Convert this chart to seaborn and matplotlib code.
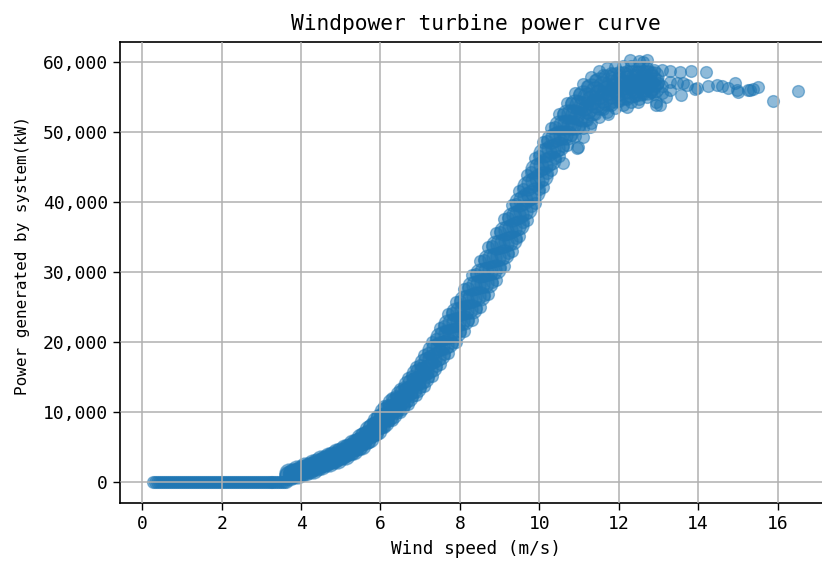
import numpy as np
import pandas as pd
import matplotlib
matplotlib.use("Agg")
import matplotlib.pyplot as plt
from matplotlib.ticker import FuncFormatter
import seaborn as sns

# ---- data ----
# zero-power segment (below cut-in, ~3.6 m/s)
flat_speed = [0.28, 0.33, 0.38, 0.43, 0.48, 0.53, 0.58, 0.63, 0.68, 0.73, 0.78, 0.83,
              0.88, 0.93, 0.98, 1.03, 1.08, 1.13, 1.18, 1.23, 1.28, 1.33, 1.38, 1.43,
              1.48, 1.53, 1.58, 1.63, 1.68, 1.73, 1.78, 1.83, 1.88, 1.93, 1.98, 2.03,
              2.08, 2.13, 2.18, 2.23, 2.28, 2.33, 2.38, 2.43, 2.48, 2.53, 2.58, 2.63,
              2.68, 2.73, 2.78, 2.83, 2.88, 2.93, 2.98, 3.03, 3.08, 3.13, 3.18, 3.23,
              3.28, 3.33, 3.38, 3.43, 3.48, 3.53, 3.58, 3.62]
flat_power = [0] * len(flat_speed)

# main band, set A: speed grid and five power levels across the band (bottom -> top)
band_speed = [3.7, 3.9, 4.1, 4.3, 4.5, 4.7, 4.9, 5.1, 5.3, 5.5, 5.7, 5.9, 6.1, 6.3, 6.5,
              6.7, 6.9, 7.1, 7.3, 7.5, 7.7, 7.9, 8.1, 8.3, 8.5, 8.7, 8.9, 9.1, 9.3, 9.5,
              9.7, 9.9, 10.1, 10.3, 10.5, 10.7, 10.9, 11.1, 11.3, 11.5, 11.7, 11.9, 12.1,
              12.3, 12.5, 12.7, 12.9]
band_low = [700, 950, 1250, 1600, 2100, 2500, 2950, 3500, 4100, 4800, 5750, 6800, 7800,
            8900, 10000, 11200, 12400, 13700, 15200, 16800, 18400, 20000, 21600, 23200,
            25000, 26800, 28800, 30900, 33000, 35200, 37400, 39800, 42200, 44500, 46500,
            48100, 49400, 50500, 51300, 52200, 52800, 53400, 53900, 54300, 54700, 55000,
            55400]
band_q1 = [880, 1190, 1530, 1910, 2430, 2860, 3340, 3910, 4550, 5300, 6310, 7450, 8550,
           9680, 10830, 12100, 13400, 14800, 16400, 18100, 19800, 21430, 23080, 24780,
           26630, 28480, 30480, 32550, 34630, 36780, 39030, 41430, 43780, 46000, 48000,
           49600, 50950, 52100, 52950, 53830, 54380, 54880, 55280, 55580, 55850, 56030,
           56280]
band_mid = [1050, 1430, 1800, 2230, 2750, 3230, 3730, 4330, 5000, 5800, 6880, 8100, 9300,
            10450, 11650, 13000, 14400, 15900, 17600, 19400, 21200, 22850, 24550, 26350,
            28250, 30150, 32150, 34200, 36250, 38350, 40650, 43050, 45350, 47500, 49500,
            51100, 52500, 53700, 54600, 55450, 55950, 56350, 56650, 56850, 57000, 57050,
            57150]
band_q3 = [1230, 1660, 2080, 2540, 3080, 3590, 4110, 4740, 5450, 6300, 7440, 8750, 10050,
           11230, 12480, 13900, 15400, 17000, 18800, 20700, 22600, 24280, 26030, 27930,
           29880, 31830, 33830, 35850, 37880, 39930, 42280, 44680, 46930, 49000, 51000,
           52600, 54050, 55300, 56250, 57080, 57530, 57830, 58030, 58130, 58150, 58080,
           58030]
band_high = [1400, 1900, 2350, 2850, 3400, 3950, 4500, 5150, 5900, 6800, 8000, 9400, 10800,
             12000, 13300, 14800, 16400, 18100, 20000, 22000, 24000, 25700, 27500, 29500,
             31500, 33500, 35500, 37500, 39500, 41500, 43900, 46300, 48500, 50500, 52500,
             54100, 55600, 56900, 57900, 58700, 59100, 59300, 59400, 59400, 59300, 59100,
             58900]

# main band, set B: staggered speed grid with four power levels (bottom -> top)
band2_speed = [3.8, 4.0, 4.2, 4.4, 4.6, 4.8, 5.0, 5.2, 5.4, 5.6, 5.8, 6.0, 6.2, 6.4, 6.6,
               6.8, 7.0, 7.2, 7.4, 7.6, 7.8, 8.0, 8.2, 8.4, 8.6, 8.8, 9.0, 9.2, 9.4, 9.6,
               9.8, 10.0, 10.2, 10.4, 10.6, 10.8, 11.0, 11.2, 11.4, 11.6, 11.8, 12.0, 12.2,
               12.4, 12.6, 12.8]
band2_a = [930, 1230, 1570, 2010, 2470, 2910, 3425, 4020, 4690, 5540, 6580, 7650, 8730,
           9850, 11030, 12280, 13580, 15030, 16630, 18280, 19910, 21530, 23160, 24900,
           26730, 28640, 30680, 32770, 34900, 37100, 39410, 41800, 44120, 46250, 48050,
           49510, 50740, 51710, 52570, 53300, 53860, 54360, 54760, 55110, 55390, 55680]
band2_b = [1130, 1480, 1870, 2330, 2820, 3290, 3825, 4450, 5160, 6070, 7180, 8350, 9490,
           10650, 11890, 13230, 14630, 16180, 17880, 19630, 21320, 22980, 24690, 26500,
           28380, 30310, 32340, 34410, 36500, 38700, 41040, 43400, 45660, 47750, 49550,
           51040, 52310, 53340, 54210, 54900, 55390, 55790, 56090, 56320, 56480, 56630]
band2_c = [1340, 1740, 2160, 2650, 3160, 3660, 4225, 4880, 5640, 6600, 7790, 9050, 10260,
           11450, 12760, 14180, 15680, 17330, 19130, 20980, 22730, 24430, 26210, 28100,
           30030, 31990, 34010, 36040, 38100, 40300, 42660, 45000, 47190, 49250, 51050,
           52560, 53890, 54960, 55840, 56500, 56910, 57210, 57410, 57530, 57570, 57580]
band2_d = [1550, 2000, 2450, 2970, 3500, 4040, 4625, 5310, 6110, 7130, 8400, 9750, 11020,
           12250, 13620, 15130, 16730, 18480, 20380, 22330, 24140, 25880, 27740, 29700,
           31680, 33660, 35670, 37680, 39700, 41900, 44290, 46600, 48730, 50750, 52550,
           54090, 55460, 56590, 57480, 58100, 58440, 58640, 58740, 58740, 58660, 58530]

# scattered points at the edge of the band and beyond rated speed
sparse_speed = [10.6, 10.94, 10.98, 11.1, 11.28, 11.74, 12.2, 12.49, 12.95, 13.04, 12.95,
                12.28, 12.5, 12.7, 12.6, 13.1, 13.3, 13.1, 13.3, 13.2, 13.0, 13.1, 13.3,
                13.54, 13.83, 14.19, 13.46, 13.62, 13.58, 13.71, 13.92, 13.96, 14.25, 14.47,
                14.59, 14.76, 14.93, 14.97, 15.01, 15.26, 15.3, 15.39, 15.51, 15.89, 16.52]
sparse_power = [45530, 47670, 47900, 49300, 50670, 52500, 53600, 54330, 53860, 53860, 54330,
                60300, 60200, 60300, 60000, 58800, 58700, 56500, 56000, 55000, 57000, 55500,
                57200, 58600, 58760, 58600, 56950, 56950, 55290, 56710, 56100, 56240, 56570,
                56710, 56570, 56240, 56950, 56000, 55760, 56000, 56000, 56100, 56470, 54400,
                55900]

x_ticks = [0, 2, 4, 6, 8, 10, 12, 14, 16]
y_ticks = [0, 10000, 20000, 30000, 40000, 50000, 60000]

# ---- assemble tables ----
# band core (densely overplotted in the original, drawn as larger discs)
core = pd.DataFrame({
    "WindSpeed": band_speed * 3 + band2_speed * 2,
    "Power": band_q1 + band_mid + band_q3 + band2_b + band2_c,
})
# individual points: band edges, zero segment, scattered points
pts = pd.DataFrame({
    "WindSpeed": flat_speed + band_speed * 2 + band2_speed * 2 + sparse_speed,
    "Power": flat_power + band_low + band_high + band2_a + band2_d + sparse_power,
})

# ---- plot ----
plt.rcParams["font.family"] = ["DejaVu Sans Mono", "DejaVu Sans"]
fig = plt.figure(figsize=(8.22, 5.64), dpi=100)
ax = fig.add_axes([120 / 822, 61 / 564, 712 / 822, 461 / 564])

blue = "#1f77b4"
sns.scatterplot(data=core, x="WindSpeed", y="Power", ax=ax, color=blue,
                alpha=0.5, s=190, edgecolor=blue, linewidth=1.0, legend=False)
sns.scatterplot(data=pts, x="WindSpeed", y="Power", ax=ax, color=blue,
                alpha=0.5, s=72, edgecolor=blue, linewidth=1.0, legend=False)

ax.set_xlim(-0.56, 17.37)
ax.set_ylim(-3000, 62857)
ax.set_xticks(x_ticks)
ax.set_yticks(y_ticks)
ax.yaxis.set_major_formatter(FuncFormatter(lambda v, p: f"{int(v):,}"))
ax.tick_params(labelsize=13, length=5, width=1.0, color="black")
ax.grid(True, color="#b0b0b0", linewidth=1.1)
ax.set_axisbelow(False)
for sp in ax.spines.values():
    sp.set_linewidth(1.2)
    sp.set_color("black")

ax.set_title("Windpower turbine power curve", fontsize=15.3, pad=9)
ax.set_xlabel("Wind speed (m/s)", fontsize=12.7, labelpad=5)
ax.set_ylabel("Power generated by system(kW)", fontsize=11.5)
ax.yaxis.set_label_coords(-0.126, 0.538)

fig.savefig("out.png", dpi=100)
